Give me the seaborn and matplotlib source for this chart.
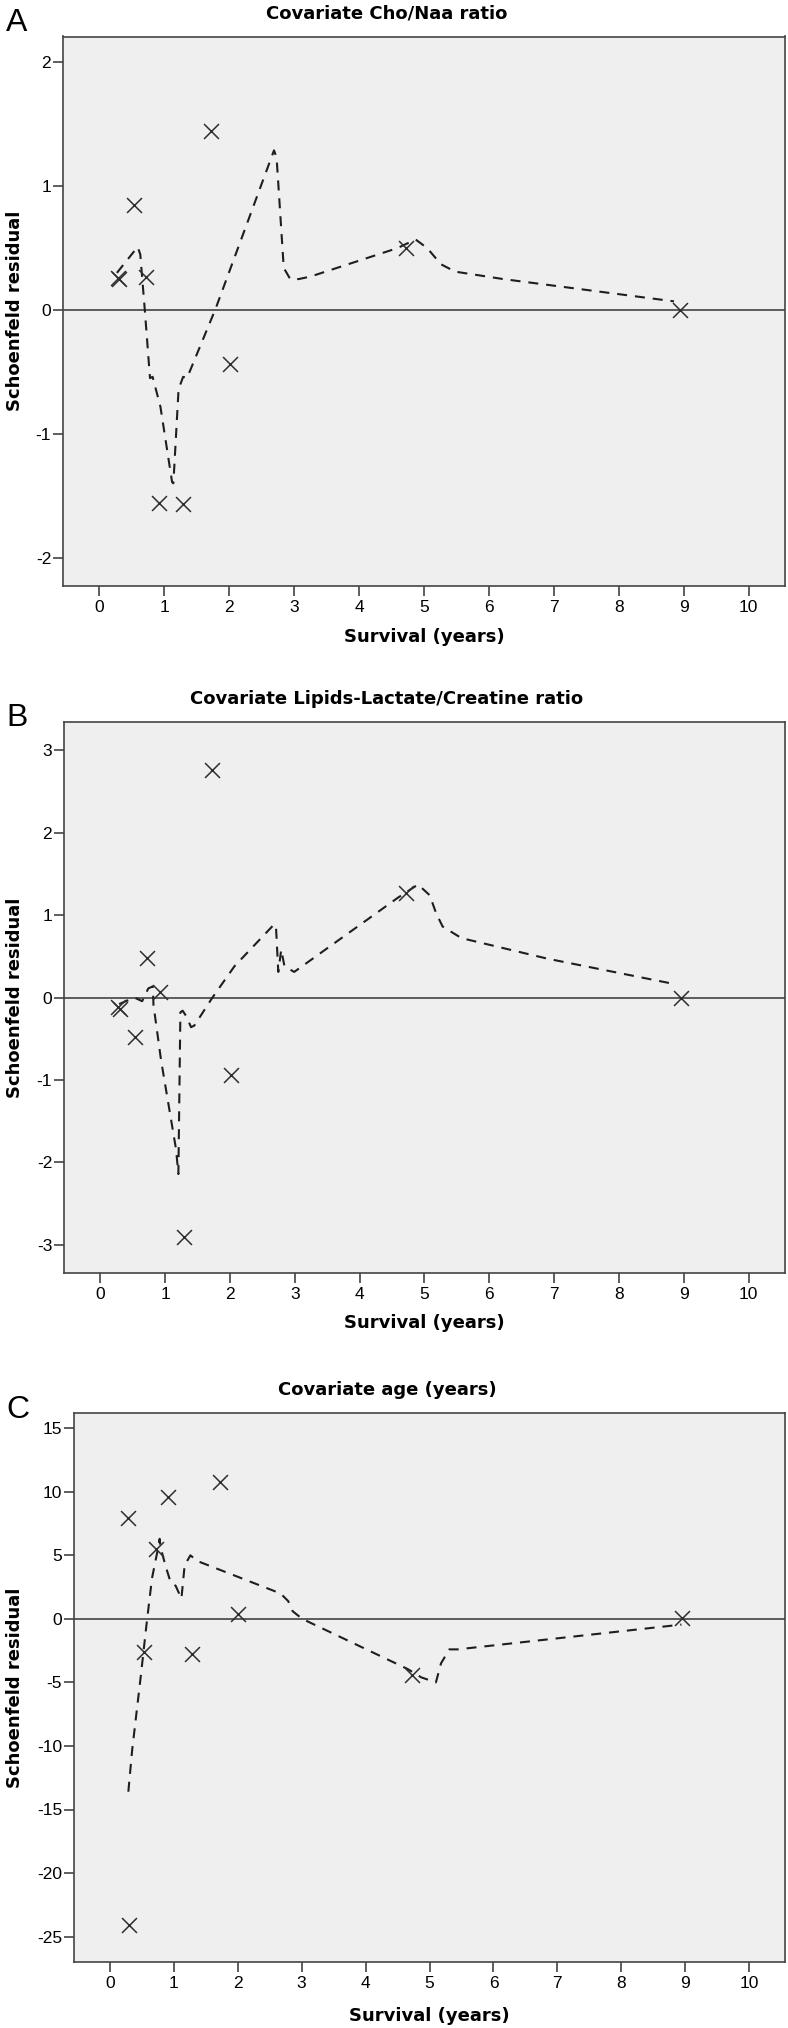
import matplotlib
matplotlib.use("Agg")
import matplotlib.pyplot as plt
import seaborn as sns

sns.set_theme(style="ticks")
plt.rcParams["font.family"] = ["Liberation Sans", "DejaVu Sans"]
plt.rcParams["axes.unicode_minus"] = False

# survival times of the events (years)
times = [0.28, 0.30, 0.535, 0.715, 0.915, 1.29, 1.725, 2.01, 4.72, 8.95]

# Schoenfeld residuals per covariate
resid_a = [0.26, 0.25, 0.85, 0.27, -1.56, -1.57, 1.45, -0.44, 0.50, 0.00]
resid_b = [-0.12, -0.14, -0.48, 0.48, 0.07, -2.90, 2.76, -0.94, 1.27, 0.00]
resid_c = [7.9, -24.1, -2.6, 5.5, 9.6, -2.8, 10.8, 0.35, -4.45, 0.05]

# smoothed (dashed) curves
curve_a_t = [0.27, 0.59, 0.63, 0.70, 0.78, 0.82, 0.94, 1.12, 1.14, 1.22, 1.29, 1.35, 1.79,
             2.69, 2.73, 2.84, 2.94, 3.07, 3.25, 4.59, 4.87, 5.05, 5.26, 5.48, 6.22, 8.85]
curve_a_y = [0.30, 0.51, 0.45, 0.0, -0.55, -0.54, -0.78, -1.39, -1.40, -0.64, -0.54, -0.55, 0.01,
             1.29, 1.23, 0.34, 0.25, 0.25, 0.27, 0.50, 0.57, 0.50, 0.37, 0.31, 0.25, 0.07]

curve_b_t = [0.29, 0.525, 0.645, 0.74, 0.81, 0.82, 0.937, 1.168, 1.204, 1.235, 1.27, 1.32, 1.40,
             1.45, 1.73, 2.07, 2.685, 2.71, 2.745, 2.79, 2.84, 2.99, 4.59, 4.90, 5.08, 5.18,
             5.28, 5.57, 6.90, 8.81]
curve_b_y = [-0.08, 0.0, -0.045, 0.11, 0.135, -0.09, -0.76, -1.84, -2.14, -0.18, -0.16, -0.22, -0.36,
             -0.34, 0.0, 0.38, 0.89, 0.85, 0.31, 0.58, 0.38, 0.31, 1.21, 1.37, 1.24, 1.02,
             0.86, 0.72, 0.47, 0.17]

curve_c_t = [0.29, 0.35, 0.48, 0.575, 0.66, 0.74, 0.78, 0.79, 0.87, 0.95, 1.03, 1.12, 1.17,
             1.26, 1.37, 2.67, 2.79, 2.86, 3.01, 4.66, 4.87, 5.10, 5.18, 5.31, 5.44, 8.94]
curve_c_y = [-13.6, -10.3, -4.7, -0.4, 3.2, 5.2, 6.3, 5.7, 4.2, 2.9, 2.6, 1.6, 4.2,
             5.0, 4.55, 2.0, 1.4, 0.6, 0.0, -3.95, -4.6, -5.0, -3.5, -2.4, -2.4, -0.45]

titles = ["Covariate Cho/Naa ratio",
          "Covariate Lipids-Lactate/Creatine ratio",
          "Covariate age (years)"]
letters = ["A", "B", "C"]
yticks_list = [[-2, -1, 0, 1, 2], [-3, -2, -1, 0, 1, 2, 3], [-25, -20, -15, -10, -5, 0, 5, 10, 15]]
ylims = [(-2.23, 2.21), (-3.34, 3.34), (-27.0, 16.2)]
xticks = list(range(0, 11))

W, H = 788, 2028
fig = plt.figure(figsize=(W / 100, H / 100), dpi=100)
fig.patch.set_facecolor("white")

# axes boxes in pixels: left, top, right, bottom
boxes = [(63, 36.5, 785, 586), (64, 722, 785, 1273), (74, 1413, 785, 1962)]
title_y = [13, 699, 1390]
letter_y = [23, 718, 1410]
xlabel_y = [637, 1323, 2016]

panels = [(resid_a, curve_a_t, curve_a_y),
          (resid_b, curve_b_t, curve_b_y),
          (resid_c, curve_c_t, curve_c_y)]

bold = dict(family="DejaVu Sans", fontweight="bold", fontsize=13, color="black")

for i, (resid, ct, cy) in enumerate(panels):
    l, t, r, b = boxes[i]
    ax = fig.add_axes([l / W, 1 - b / H, (r - l) / W, (b - t) / H])
    ax.set_facecolor("#efefef")

    ax.axhline(0, color="#505050", lw=1.3, zorder=1)
    sns.lineplot(x=ct, y=cy, ax=ax, sort=False, estimator=None, color="#1e1e1e",
                 lw=1.5, linestyle=(0, (4.8, 3.8)), zorder=2)
    sns.scatterplot(x=times, y=resid, ax=ax, marker="x", s=115, color="#2e2e2e",
                    linewidth=1.1, zorder=3)

    ax.set_xlim(-0.56, 10.56)
    ax.set_ylim(*ylims[i])
    ax.set_xticks(xticks)
    ax.set_yticks(yticks_list[i])
    ax.set_xticklabels([str(v) for v in xticks])
    ax.set_yticklabels([str(v) for v in yticks_list[i]])
    ax.tick_params(direction="out", length=7, width=1.1, color="#333333",
                   labelcolor="black", labelsize=12.5, pad=1.5)
    ax.tick_params(axis="x", pad=3)
    for sp in ax.spines.values():
        sp.set_visible(True)
        sp.set_color("#444444")
        sp.set_linewidth(1.2)

    ax.set_xlabel("Survival (years)", **bold)
    ax.set_ylabel("Schoenfeld residual", **bold)
    ax.xaxis.set_label_coords(((l + r) / 2) / W, 1 - xlabel_y[i] / H, transform=fig.transFigure)
    ax.yaxis.set_label_coords(15 / W, 1 - ((t + b) / 2) / H, transform=fig.transFigure)
    ax.xaxis.label.set_va("center")
    ax.yaxis.label.set_va("center")

    fig.text(387 / W, 1 - title_y[i] / H, titles[i], ha="center", va="center", **bold)
    fig.text(6 / W, 1 - letter_y[i] / H, letters[i], ha="left", va="center",
             family="Liberation Sans", fontsize=23, color="black")

fig.savefig("out.png", dpi=100, facecolor="white")
